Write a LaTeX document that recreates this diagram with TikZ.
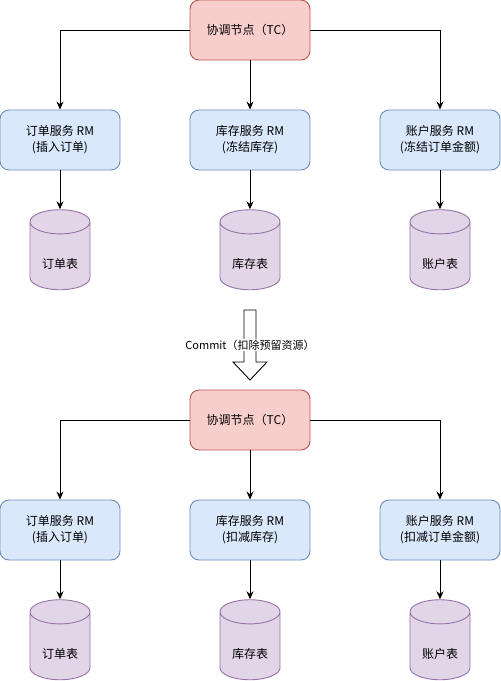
\documentclass[tikz,border=0pt]{standalone}
\usepackage{fontspec}
\setmainfont{Noto Sans CJK SC}
\usetikzlibrary{arrows.meta,shapes.geometric}
\definecolor{tcfill}{HTML}{F8CECC}
\definecolor{tcline}{HTML}{B85450}
\definecolor{rmfill}{HTML}{DAE8FC}
\definecolor{rmline}{HTML}{6C8EBF}
\definecolor{dbfill}{HTML}{E1D5E7}
\definecolor{dbline}{HTML}{9673A6}
\begin{document}
\begin{tikzpicture}[
  x=1pt, y=-1pt,
  font=\fontsize{12}{16}\selectfont,
  tc/.style={draw=tcline, fill=tcfill, line width=0.9pt, rounded corners=9pt, align=center,
             minimum width=120pt, minimum height=60pt, inner sep=0pt},
  rm/.style={draw=rmline, fill=rmfill, line width=0.9pt, rounded corners=9pt, align=center,
             minimum width=120pt, minimum height=60pt, inner sep=0pt},
  db/.style={draw=dbline, fill=dbfill, line width=0.9pt, cylinder, shape border rotate=90,
             aspect=0.67, minimum width=60pt, minimum height=80pt, inner sep=0pt,
             text height=26pt, text depth=2pt},
  edge/.style={draw=black, line width=1pt, -{Stealth[length=8pt,width=7pt]}}
]
\useasboundingbox (0,0) rectangle (501,681);
\node[tc] (tcA) at (250,30) {协调节点（TC）};
\node[rm] (orderA) at (60,140) {订单服务 RM\\(插入订单)};
\node[rm] (stockA) at (250,140) {库存服务 RM\\(冻结库存)};
\node[rm] (acctA) at (440,140) {账户服务 RM\\(冻结订单金额)};
\node[db] (orderdbA) at (60,256) {订单表};
\node[db] (stockdbA) at (250,256) {库存表};
\node[db] (acctdbA) at (440,256) {账户表};
\draw[edge] (tcA.west) -| (orderA.north);
\draw[edge] (tcA) -- (stockA);
\draw[edge] (tcA.east) -| (acctA.north);
\draw[edge] (orderA) -- (orderdbA.top);
\draw[edge] (stockA) -- (stockdbA.top);
\draw[edge] (acctA) -- (acctdbA.top);
\draw[line width=0.9pt, fill=white] (244,310) -- (256,310) -- (256,362) -- (267,362) -- (250,380)
  -- (233,362) -- (244,362) -- cycle;
\node[fill=white, inner sep=1pt, font=\fontsize{11}{13}\selectfont] (commit) at (250,345) {Commit（扣除预留资源）};
\node[tc] (tcB) at (250,420) {协调节点（TC）};
\node[rm] (orderB) at (60,530) {订单服务 RM\\(插入订单)};
\node[rm] (stockB) at (250,530) {库存服务 RM\\(扣减库存)};
\node[rm] (acctB) at (440,530) {账户服务 RM\\(扣减订单金额)};
\node[db] (orderdbB) at (60,646) {订单表};
\node[db] (stockdbB) at (250,646) {库存表};
\node[db] (acctdbB) at (440,646) {账户表};
\draw[edge] (tcB.west) -| (orderB.north);
\draw[edge] (tcB) -- (stockB);
\draw[edge] (tcB.east) -| (acctB.north);
\draw[edge] (orderB) -- (orderdbB.top);
\draw[edge] (stockB) -- (stockdbB.top);
\draw[edge] (acctB) -- (acctdbB.top);
\end{tikzpicture}
\end{document}
